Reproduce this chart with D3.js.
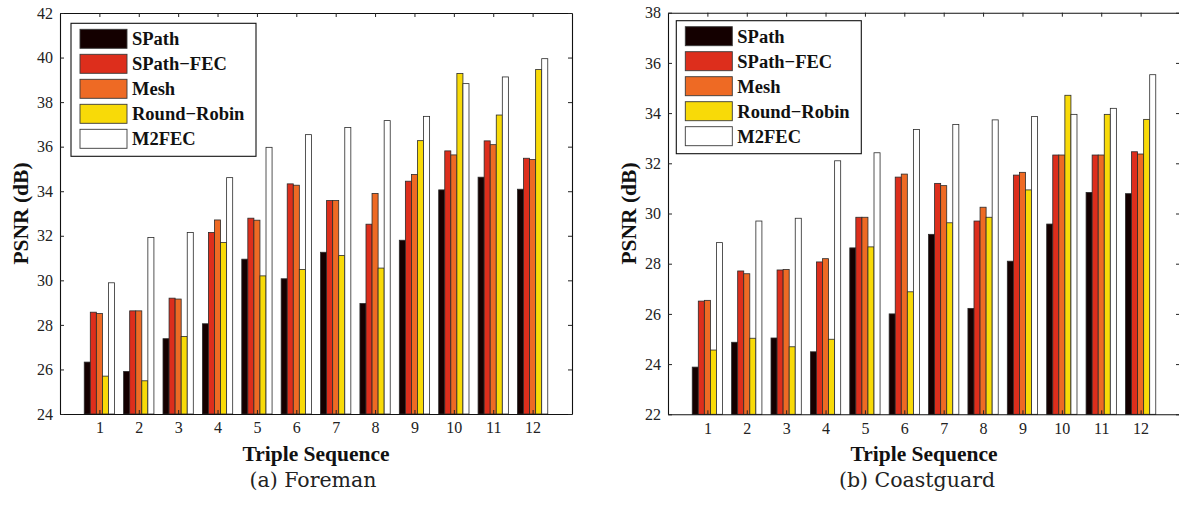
<!DOCTYPE html>
<html>
<head>
<meta charset="utf-8">
<title>PSNR per triple sequence</title>
<script src="https://d3js.org/d3.v7.min.js"></script>
<style>
	body {margin:0; background:#fff;}
	svg {display:block;}
</style>
</head>
<body>
<div id="mydiv"></div>
<script>
// categories / series
var sequences = [1,2,3,4,5,6,7,8,9,10,11,12];
var schemes = ["SPath","SPath\u2212FEC","Mesh","Round\u2212Robin","M2FEC"];
var schemeColors = ["#140000","#dd2e1c","#ee6a24","#f8da08","#ffffff"];

// (a) Foreman
var foremanSPath    = [26.33,25.91,27.38,28.05,30.95,30.07,31.26,28.96,31.80,34.06,34.63,34.09];
var foremanSPathFEC = [28.57,28.63,29.20,32.15,32.79,34.33,33.58,32.52,34.45,35.81,36.26,35.48];
var foremanMesh     = [28.51,28.63,29.16,32.71,32.70,34.27,33.58,33.90,34.75,35.63,36.09,35.42];
var foremanRR       = [25.70,25.49,27.48,31.70,30.20,30.49,31.11,30.55,36.27,39.28,37.42,39.46];
var foremanM2FEC    = [29.89,31.92,32.15,34.61,35.97,36.54,36.86,37.17,37.36,38.83,39.13,39.95];
var foremanTicks    = [24,26,28,30,32,34,36,38,40,42];

// (b) Coastguard
var coastSPath    = [23.88,24.87,25.04,24.49,28.63,26.00,29.17,26.22,28.10,29.58,30.84,30.79];
var coastSPathFEC = [26.51,27.71,27.75,28.07,29.85,31.45,31.20,29.70,31.53,32.33,32.33,32.46];
var coastMesh     = [26.54,27.60,27.77,28.20,29.85,31.57,31.11,30.25,31.64,32.33,32.33,32.37];
var coastRR       = [24.56,25.03,24.69,24.99,28.67,26.88,29.63,29.85,30.94,34.71,33.95,33.75];
var coastM2FEC    = [28.84,29.70,29.81,32.10,32.42,33.35,33.55,33.73,33.86,33.95,34.19,35.53];
var coastTicks    = [22,24,26,28,30,32,34,36,38];

var svg = d3.select("#mydiv").append("svg")
	.attr("width",1179)
	.attr("height",505);

var serif = "'Liberation Serif','Times New Roman',serif";

function drawPanel(opt) {
	var x = d3.scaleLinear().domain([0,13]).range([opt.left, opt.left+512]);
	var y = d3.scaleLinear().domain([opt.ticks[0], opt.ticks[opt.ticks.length-1]]).range([opt.bottom, opt.top]);
	var step = x(1)-x(0);
	var gw = step*0.769;
	var inner = d3.scaleBand().domain(d3.range(schemes.length)).range([-gw/2, gw/2]).padding(0);

	var g = svg.append("g");

	// bars
	opt.series.forEach(function(vals, s) {
		g.selectAll(null).data(vals).enter()
			.append("rect")
			.attr("x", function(d,i){return x(sequences[i]) + inner(s);})
			.attr("y", function(d){return y(d);})
			.attr("width", inner.bandwidth())
			.attr("height", function(d){return y(opt.ticks[0]) - y(d);})
			.attr("fill", schemeColors[s])
			.attr("stroke", "#2a2a2a")
			.attr("stroke-width", 0.8);
	});

	// axes (ticks inward on all sides)
	var bottomAx = d3.axisBottom(x).tickValues(sequences).tickSize(-4).tickPadding(8).tickSizeOuter(0);
	var topAx = d3.axisTop(x).tickValues(sequences).tickSize(-4).tickFormat("").tickSizeOuter(0);
	var leftAx = d3.axisLeft(y).tickValues(opt.ticks).tickSize(-4).tickPadding(7).tickSizeOuter(0);
	var rightAx = d3.axisRight(y).tickValues(opt.ticks).tickSize(-4).tickFormat("").tickSizeOuter(0);

	[[bottomAx,"translate(0,"+opt.bottom+")"],[topAx,"translate(0,"+opt.top+")"],
	 [leftAx,"translate("+opt.left+",0)"],[rightAx,"translate("+(opt.left+512)+",0)"]].forEach(function(a){
		var ag = g.append("g").attr("transform",a[1]).call(a[0]);
		ag.select(".domain").attr("stroke","#111").attr("stroke-width",1.1);
		ag.selectAll(".tick line").attr("stroke","#222").attr("stroke-width",1);
		ag.selectAll("text").attr("font-family",serif).attr("font-size",16).attr("fill","#222");
	});

	// axis labels
	g.append("text")
		.attr("x", (x(0)+x(13))/2).attr("y", 461)
		.attr("text-anchor","middle")
		.attr("font-family",serif).attr("font-weight","bold").attr("font-size",21.5)
		.attr("fill","#111")
		.text("Triple Sequence");
	g.append("text")
		.attr("transform","translate("+(opt.left-32)+","+((opt.top+opt.bottom)/2)+") rotate(-90)")
		.attr("text-anchor","middle")
		.attr("font-family",serif).attr("font-weight","bold").attr("font-size",21.5)
		.attr("fill","#111")
		.text("PSNR (dB)");

	// caption
	g.append("text")
		.attr("x", opt.captionX).attr("y", 487)
		.attr("text-anchor","middle")
		.attr("font-family","'DejaVu Serif',serif").attr("font-size",20.5)
		.attr("fill","#222")
		.text(opt.caption);

	// legend
	var lg = g.append("g").attr("transform","translate("+opt.legX+","+opt.legY+")");
	lg.append("rect")
		.attr("x",0).attr("y",0).attr("width",185).attr("height",133)
		.attr("fill","#fff").attr("stroke","#111").attr("stroke-width",1.1);
	var item = lg.selectAll("g.item").data(schemes).enter()
		.append("g").attr("class","item")
		.attr("transform",function(d,i){return "translate(9,"+(6+i*25)+")";});
	item.append("rect")
		.attr("width",47).attr("height",19)
		.attr("fill",function(d,i){return schemeColors[i];})
		.attr("stroke","#3a3a3a").attr("stroke-width",0.9);
	item.append("text")
		.attr("x",52).attr("y",16)
		.attr("font-family",serif).attr("font-weight","bold").attr("font-size",18.5)
		.attr("fill","#111")
		.text(function(d){return d;});
}

drawPanel({
	left:60, top:13, bottom:414,
	ticks: foremanTicks,
	series: [foremanSPath, foremanSPathFEC, foremanMesh, foremanRR, foremanM2FEC],
	caption: "(a) Foreman", captionX: 313,
	legX: 71, legY: 23.3
});

drawPanel({
	left:668, top:12.7, bottom:414.3,
	ticks: coastTicks,
	series: [coastSPath, coastSPathFEC, coastMesh, coastRR, coastM2FEC],
	caption: "(b) Coastguard", captionX: 917,
	legX: 676.3, legY: 20.7
});
</script>
</body>
</html>
